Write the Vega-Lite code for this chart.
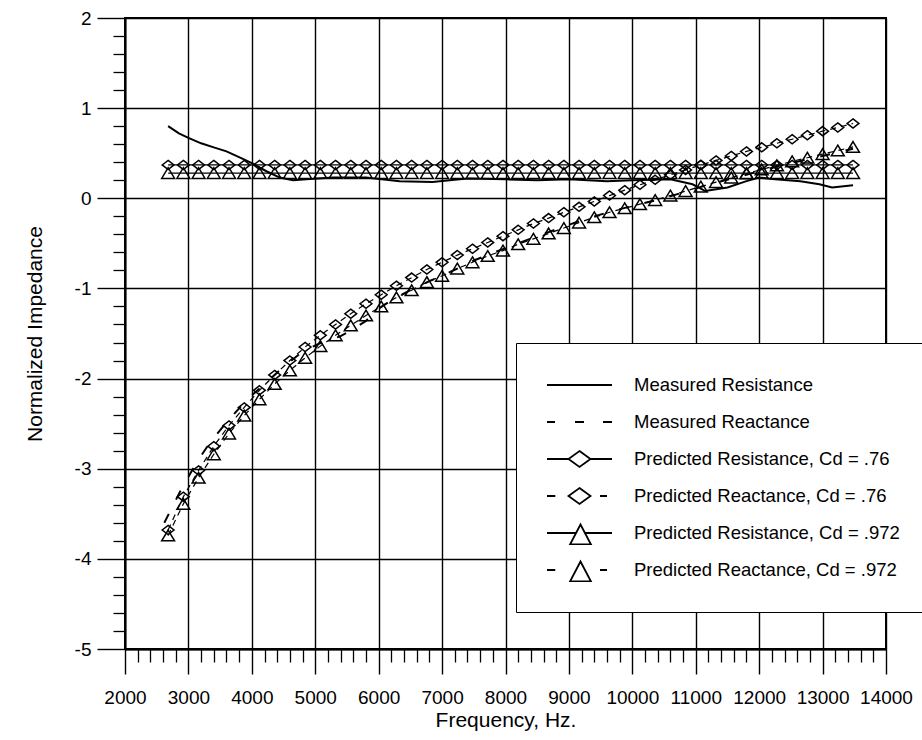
{
"$schema": "https://vega.github.io/schema/vega-lite/v6.json",
"width": 761, "height": 631,
"autosize": {"type": "none"},
"padding": {"left": 125, "top": 18, "right": 36, "bottom": 91},
"background": "white",
"config": {"view": {"stroke": "black", "strokeWidth": 2}, "font": "Liberation Sans"},
"datasets": {
"meas": [
{"s":"R","f":2680,"v":0.80},{"s":"R","f":2850,"v":0.72},{"s":"R","f":3000,"v":0.67},{"s":"R","f":3200,"v":0.61},{"s":"R","f":3400,"v":0.565},{"s":"R","f":3600,"v":0.52},{"s":"R","f":3850,"v":0.44},{"s":"R","f":4000,"v":0.39},{"s":"R","f":4230,"v":0.30},{"s":"R","f":4440,"v":0.23},{"s":"R","f":4650,"v":0.20},{"s":"R","f":4860,"v":0.21},{"s":"R","f":5280,"v":0.23},{"s":"R","f":5800,"v":0.23},{"s":"R","f":6330,"v":0.19},{"s":"R","f":6850,"v":0.18},{"s":"R","f":7120,"v":0.20},{"s":"R","f":7400,"v":0.22},{"s":"R","f":8000,"v":0.21},{"s":"R","f":8500,"v":0.20},{"s":"R","f":9000,"v":0.21},{"s":"R","f":9600,"v":0.19},{"s":"R","f":10000,"v":0.20},{"s":"R","f":10600,"v":0.21},{"s":"R","f":10950,"v":0.155},{"s":"R","f":11150,"v":0.08},{"s":"R","f":11500,"v":0.12},{"s":"R","f":11800,"v":0.19},{"s":"R","f":12000,"v":0.23},{"s":"R","f":12250,"v":0.21},{"s":"R","f":12650,"v":0.19},{"s":"R","f":12950,"v":0.155},{"s":"R","f":13150,"v":0.12},{"s":"R","f":13480,"v":0.145},
{"s":"X","f":2620,"v":-3.60},{"s":"X","f":2900,"v":-3.21},{"s":"X","f":3140,"v":-2.92},{"s":"X","f":3340,"v":-2.71},{"s":"X","f":3620,"v":-2.47},{"s":"X","f":3915,"v":-2.24},{"s":"X","f":4200,"v":-2.06},{"s":"X","f":4500,"v":-1.87},{"s":"X","f":4800,"v":-1.70},{"s":"X","f":5100,"v":-1.60},{"s":"X","f":5400,"v":-1.53},{"s":"X","f":5600,"v":-1.45},{"s":"X","f":5800,"v":-1.36},{"s":"X","f":5970,"v":-1.24},{"s":"X","f":6200,"v":-1.13},{"s":"X","f":6500,"v":-1.02},{"s":"X","f":6800,"v":-0.92},{"s":"X","f":7180,"v":-0.80},{"s":"X","f":7500,"v":-0.69},{"s":"X","f":7860,"v":-0.59},{"s":"X","f":8200,"v":-0.50},{"s":"X","f":8500,"v":-0.42},{"s":"X","f":8780,"v":-0.35},{"s":"X","f":9250,"v":-0.23},{"s":"X","f":9700,"v":-0.14},{"s":"X","f":10000,"v":-0.085},{"s":"X","f":10500,"v":0.0},{"s":"X","f":11000,"v":0.11},{"s":"X","f":11300,"v":0.17},{"s":"X","f":11700,"v":0.24},{"s":"X","f":12000,"v":0.30},{"s":"X","f":12500,"v":0.39},{"s":"X","f":13000,"v":0.47},{"s":"X","f":13480,"v":0.55}
],
"pred": [
{"s":"RD","f":2680,"v":0.37},{"s":"RD","f":2920,"v":0.37},{"s":"RD","f":3160,"v":0.37},{"s":"RD","f":3400,"v":0.37},{"s":"RD","f":3640,"v":0.37},{"s":"RD","f":3880,"v":0.37},{"s":"RD","f":4120,"v":0.37},{"s":"RD","f":4360,"v":0.37},{"s":"RD","f":4600,"v":0.37},{"s":"RD","f":4840,"v":0.37},{"s":"RD","f":5080,"v":0.37},{"s":"RD","f":5320,"v":0.37},{"s":"RD","f":5560,"v":0.37},{"s":"RD","f":5800,"v":0.37},{"s":"RD","f":6040,"v":0.37},{"s":"RD","f":6280,"v":0.37},{"s":"RD","f":6520,"v":0.37},{"s":"RD","f":6760,"v":0.37},{"s":"RD","f":7000,"v":0.37},{"s":"RD","f":7240,"v":0.37},{"s":"RD","f":7480,"v":0.37},{"s":"RD","f":7720,"v":0.37},{"s":"RD","f":7960,"v":0.37},{"s":"RD","f":8200,"v":0.37},{"s":"RD","f":8440,"v":0.37},{"s":"RD","f":8680,"v":0.37},{"s":"RD","f":8920,"v":0.37},{"s":"RD","f":9160,"v":0.37},{"s":"RD","f":9400,"v":0.37},{"s":"RD","f":9640,"v":0.37},{"s":"RD","f":9880,"v":0.37},{"s":"RD","f":10120,"v":0.37},{"s":"RD","f":10360,"v":0.37},{"s":"RD","f":10600,"v":0.37},{"s":"RD","f":10840,"v":0.37},{"s":"RD","f":11080,"v":0.37},{"s":"RD","f":11320,"v":0.37},{"s":"RD","f":11560,"v":0.37},{"s":"RD","f":11800,"v":0.37},{"s":"RD","f":12040,"v":0.37},{"s":"RD","f":12280,"v":0.37},{"s":"RD","f":12520,"v":0.37},{"s":"RD","f":12760,"v":0.37},{"s":"RD","f":13000,"v":0.37},{"s":"RD","f":13240,"v":0.37},{"s":"RD","f":13480,"v":0.37},
{"s":"RT","f":2680,"v":0.28},{"s":"RT","f":2920,"v":0.28},{"s":"RT","f":3160,"v":0.28},{"s":"RT","f":3400,"v":0.28},{"s":"RT","f":3640,"v":0.28},{"s":"RT","f":3880,"v":0.28},{"s":"RT","f":4120,"v":0.28},{"s":"RT","f":4360,"v":0.28},{"s":"RT","f":4600,"v":0.28},{"s":"RT","f":4840,"v":0.28},{"s":"RT","f":5080,"v":0.28},{"s":"RT","f":5320,"v":0.28},{"s":"RT","f":5560,"v":0.28},{"s":"RT","f":5800,"v":0.28},{"s":"RT","f":6040,"v":0.28},{"s":"RT","f":6280,"v":0.28},{"s":"RT","f":6520,"v":0.28},{"s":"RT","f":6760,"v":0.28},{"s":"RT","f":7000,"v":0.28},{"s":"RT","f":7240,"v":0.28},{"s":"RT","f":7480,"v":0.28},{"s":"RT","f":7720,"v":0.28},{"s":"RT","f":7960,"v":0.28},{"s":"RT","f":8200,"v":0.28},{"s":"RT","f":8440,"v":0.28},{"s":"RT","f":8680,"v":0.28},{"s":"RT","f":8920,"v":0.28},{"s":"RT","f":9160,"v":0.28},{"s":"RT","f":9400,"v":0.28},{"s":"RT","f":9640,"v":0.28},{"s":"RT","f":9880,"v":0.28},{"s":"RT","f":10120,"v":0.28},{"s":"RT","f":10360,"v":0.28},{"s":"RT","f":10600,"v":0.28},{"s":"RT","f":10840,"v":0.28},{"s":"RT","f":11080,"v":0.28},{"s":"RT","f":11320,"v":0.28},{"s":"RT","f":11560,"v":0.28},{"s":"RT","f":11800,"v":0.28},{"s":"RT","f":12040,"v":0.28},{"s":"RT","f":12280,"v":0.28},{"s":"RT","f":12520,"v":0.28},{"s":"RT","f":12760,"v":0.28},{"s":"RT","f":13000,"v":0.28},{"s":"RT","f":13240,"v":0.28},{"s":"RT","f":13480,"v":0.28},
{"s":"XD","f":2680,"v":-3.68},{"s":"XD","f":2920,"v":-3.31},{"s":"XD","f":3160,"v":-3.02},{"s":"XD","f":3400,"v":-2.75},{"s":"XD","f":3640,"v":-2.52},{"s":"XD","f":3880,"v":-2.32},{"s":"XD","f":4120,"v":-2.13},{"s":"XD","f":4360,"v":-1.96},{"s":"XD","f":4600,"v":-1.80},{"s":"XD","f":4840,"v":-1.65},{"s":"XD","f":5080,"v":-1.52},{"s":"XD","f":5320,"v":-1.40},{"s":"XD","f":5560,"v":-1.28},{"s":"XD","f":5800,"v":-1.17},{"s":"XD","f":6040,"v":-1.07},{"s":"XD","f":6280,"v":-0.97},{"s":"XD","f":6520,"v":-0.88},{"s":"XD","f":6760,"v":-0.79},{"s":"XD","f":7000,"v":-0.71},{"s":"XD","f":7240,"v":-0.63},{"s":"XD","f":7480,"v":-0.56},{"s":"XD","f":7720,"v":-0.49},{"s":"XD","f":7960,"v":-0.42},{"s":"XD","f":8200,"v":-0.35},{"s":"XD","f":8440,"v":-0.28},{"s":"XD","f":8680,"v":-0.22},{"s":"XD","f":8920,"v":-0.155},{"s":"XD","f":9160,"v":-0.095},{"s":"XD","f":9400,"v":-0.035},{"s":"XD","f":9640,"v":0.03},{"s":"XD","f":9880,"v":0.09},{"s":"XD","f":10120,"v":0.15},{"s":"XD","f":10360,"v":0.205},{"s":"XD","f":10600,"v":0.26},{"s":"XD","f":10840,"v":0.315},{"s":"XD","f":11080,"v":0.37},{"s":"XD","f":11320,"v":0.42},{"s":"XD","f":11560,"v":0.47},{"s":"XD","f":11800,"v":0.52},{"s":"XD","f":12040,"v":0.565},{"s":"XD","f":12280,"v":0.61},{"s":"XD","f":12520,"v":0.655},{"s":"XD","f":12760,"v":0.70},{"s":"XD","f":13000,"v":0.745},{"s":"XD","f":13240,"v":0.785},{"s":"XD","f":13480,"v":0.83},
{"s":"XT","f":2680,"v":-3.74},{"s":"XT","f":2920,"v":-3.39},{"s":"XT","f":3160,"v":-3.10},{"s":"XT","f":3400,"v":-2.84},{"s":"XT","f":3640,"v":-2.61},{"s":"XT","f":3880,"v":-2.41},{"s":"XT","f":4120,"v":-2.23},{"s":"XT","f":4360,"v":-2.06},{"s":"XT","f":4600,"v":-1.91},{"s":"XT","f":4840,"v":-1.77},{"s":"XT","f":5080,"v":-1.64},{"s":"XT","f":5320,"v":-1.52},{"s":"XT","f":5560,"v":-1.41},{"s":"XT","f":5800,"v":-1.30},{"s":"XT","f":6040,"v":-1.20},{"s":"XT","f":6280,"v":-1.10},{"s":"XT","f":6520,"v":-1.02},{"s":"XT","f":6760,"v":-0.93},{"s":"XT","f":7000,"v":-0.86},{"s":"XT","f":7240,"v":-0.78},{"s":"XT","f":7480,"v":-0.71},{"s":"XT","f":7720,"v":-0.64},{"s":"XT","f":7960,"v":-0.58},{"s":"XT","f":8200,"v":-0.51},{"s":"XT","f":8440,"v":-0.45},{"s":"XT","f":8680,"v":-0.39},{"s":"XT","f":8920,"v":-0.33},{"s":"XT","f":9160,"v":-0.27},{"s":"XT","f":9400,"v":-0.21},{"s":"XT","f":9640,"v":-0.155},{"s":"XT","f":9880,"v":-0.11},{"s":"XT","f":10120,"v":-0.065},{"s":"XT","f":10360,"v":-0.02},{"s":"XT","f":10600,"v":0.03},{"s":"XT","f":10840,"v":0.08},{"s":"XT","f":11080,"v":0.13},{"s":"XT","f":11320,"v":0.18},{"s":"XT","f":11560,"v":0.23},{"s":"XT","f":11800,"v":0.275},{"s":"XT","f":12040,"v":0.32},{"s":"XT","f":12280,"v":0.365},{"s":"XT","f":12520,"v":0.41},{"s":"XT","f":12760,"v":0.45},{"s":"XT","f":13000,"v":0.49},{"s":"XT","f":13240,"v":0.53},{"s":"XT","f":13480,"v":0.57}
]
},
"layer": [
{
"data": {"name": "meas"},
"transform": [{"filter": "datum.s == 'R'"}],
"mark": {"type": "line", "color": "black", "strokeWidth": 2},
"encoding": {
"x": {"field": "f", "type": "quantitative", "scale": {"domain": [2000, 14000], "nice": false, "zero": false},
"axis": {"orient": "bottom", "values": [2000,3000,4000,5000,6000,7000,8000,9000,10000,11000,12000,13000,14000], "format": "d", "title": "Frequency, Hz.", "grid": true, "gridColor": "black", "gridOpacity": 1, "gridWidth": 1.4, "domain": true, "domainColor": "black", "domainWidth": 2, "ticks": true, "tickColor": "black", "tickSize": 25, "tickWidth": 1.4, "labelFontSize": 19, "labelColor": "black", "labelPadding": 14, "labelFont": "Liberation Sans", "labelFlush": false, "labelOverlap": false, "titleFontSize": 21, "titleFontWeight": "normal", "titleColor": "black", "titlePadding": 2, "titleFont": "Liberation Sans"}},
"y": {"field": "v", "type": "quantitative", "scale": {"domain": [-5, 2], "nice": false, "zero": false},
"axis": {"orient": "left", "values": [-5,-4,-3,-2,-1,0,1,2], "labelExpr": "datum.value < 0 ? '-' + abs(datum.value) : '' + datum.value", "title": "Normalized Impedance", "grid": true, "gridColor": "black", "gridOpacity": 1, "gridWidth": 1.4, "domain": true, "domainColor": "black", "domainWidth": 2, "ticks": true, "tickColor": "black", "tickSize": 28, "tickWidth": 1.4, "labelFontSize": 19, "labelColor": "black", "labelPadding": 6, "labelFont": "Liberation Sans", "labelFlush": false, "labelOverlap": false, "titleFontSize": 21, "titleFontWeight": "normal", "titleColor": "black", "titlePadding": 29, "titleFont": "Liberation Sans"}}
}
},
{
"data": {"name": "meas"},
"transform": [{"filter": "datum.s == 'X'"}],
"mark": {"type": "line", "color": "black", "strokeWidth": 2, "strokeDash": [10, 16]},
"encoding": {
"x": {"field": "f", "type": "quantitative", "axis": null},
"y": {"field": "v", "type": "quantitative", "axis": null}
}
},
{
"data": {"name": "pred"},
"transform": [{"filter": "datum.s == 'RD' || datum.s == 'RT'"}],
"mark": {"type": "line", "color": "black", "strokeWidth": 1.2},
"encoding": {
"x": {"field": "f", "type": "quantitative", "axis": null},
"y": {"field": "v", "type": "quantitative", "axis": null},
"detail": {"field": "s", "type": "nominal"}
}
},
{
"data": {"name": "pred"},
"transform": [{"filter": "datum.s == 'XD' || datum.s == 'XT'"}],
"mark": {"type": "line", "color": "black", "strokeWidth": 1.2, "strokeDash": [6, 5]},
"encoding": {
"x": {"field": "f", "type": "quantitative", "axis": null},
"y": {"field": "v", "type": "quantitative", "axis": null},
"detail": {"field": "s", "type": "nominal"}
}
},
{
"data": {"name": "pred"},
"mark": {"type": "point", "filled": false, "color": "black", "strokeWidth": 1.5, "size": 115, "opacity": 1},
"encoding": {
"x": {"field": "f", "type": "quantitative", "axis": null},
"y": {"field": "v", "type": "quantitative", "axis": null},
"shape": {"field": "s", "type": "nominal", "scale": {"domain": ["RD","XD","RT","XT"], "range": ["M0,-0.85L1.1,0L0,0.85L-1.1,0Z","M0,-0.85L1.1,0L0,0.85L-1.1,0Z","M0,-1L1.2,1L-1.2,1Z","M0,-1L1.2,1L-1.2,1Z"]}, "legend": null}
}
},
{
"data": {"name": "meas"},
"transform": [{"filter": "false"}],
"mark": {"type": "point", "filled": false, "color": "black", "strokeWidth": 1.8, "size": 400, "opacity": 1},
"encoding": {
"x": {"field": "f", "type": "quantitative",
"axis": {"orient": "bottom", "values": [2200,2400,2600,2800,3200,3400,3600,3800,4200,4400,4600,4800,5200,5400,5600,5800,6200,6400,6600,6800,7200,7400,7600,7800,8200,8400,8600,8800,9200,9400,9600,9800,10200,10400,10600,10800,11200,11400,11600,11800,12200,12400,12600,12800,13200,13400,13600,13800], "labels": false, "grid": false, "domain": false, "ticks": true, "tickColor": "black", "tickSize": 13, "tickWidth": 1.3, "title": null}},
"y": {"field": "v", "type": "quantitative",
"axis": {"orient": "left", "values": [-4.8,-4.6,-4.4,-4.2,-3.8,-3.6,-3.4,-3.2,-2.8,-2.6,-2.4,-2.2,-1.8,-1.6,-1.4,-1.2,-0.8,-0.6,-0.4,-0.2,0.2,0.4,0.6,0.8,1.2,1.4,1.6,1.8], "labels": false, "grid": false, "domain": false, "ticks": true, "tickColor": "black", "tickSize": 12, "tickWidth": 1.3, "title": null}},
"shape": {"field": "s", "type": "nominal",
"scale": {"domain": ["Measured Resistance","Measured Reactance","Predicted Resistance, Cd = .76","Predicted Reactance, Cd = .76","Predicted Resistance, Cd = .972","Predicted Reactance, Cd = .972"],
"range": ["M-1,0H5.5","M-1,0H-0.2M1.8,0H2.7M4.6,0H5.5","M-1,0H1.15M3.35,0H5.5M2.25,-0.8L3.35,0L2.25,0.8L1.15,0Z","M-1,0H-0.17M4.3,0H5.0M2.25,-0.8L3.35,0L2.25,0.8L1.15,0Z","M-1,0H1.9M2.8,0H5.5M2.35,-0.85L3.4,1.15L1.3,1.15Z","M-1,0H-0.17M4.3,0H5.0M2.35,-0.85L3.4,1.15L1.3,1.15Z"]},
"legend": {"orient": "none", "legendX": 391, "legendY": 325, "title": null, "fillColor": "white", "strokeColor": "black", "padding": 30, "rowPadding": 13, "clipHeight": 24, "symbolSize": 400, "symbolStrokeWidth": 1.8, "symbolStrokeColor": "black", "symbolFillColor": "transparent", "symbolOpacity": 1, "labelFontSize": 18.5, "labelFont": "Liberation Sans", "labelColor": "black", "labelLimit": 400, "labelOffset": 66, "direction": "vertical"}}
}
}
],
"resolve": {"scale": {"shape": "independent"}, "axis": {"x": "independent", "y": "independent"}}
}
